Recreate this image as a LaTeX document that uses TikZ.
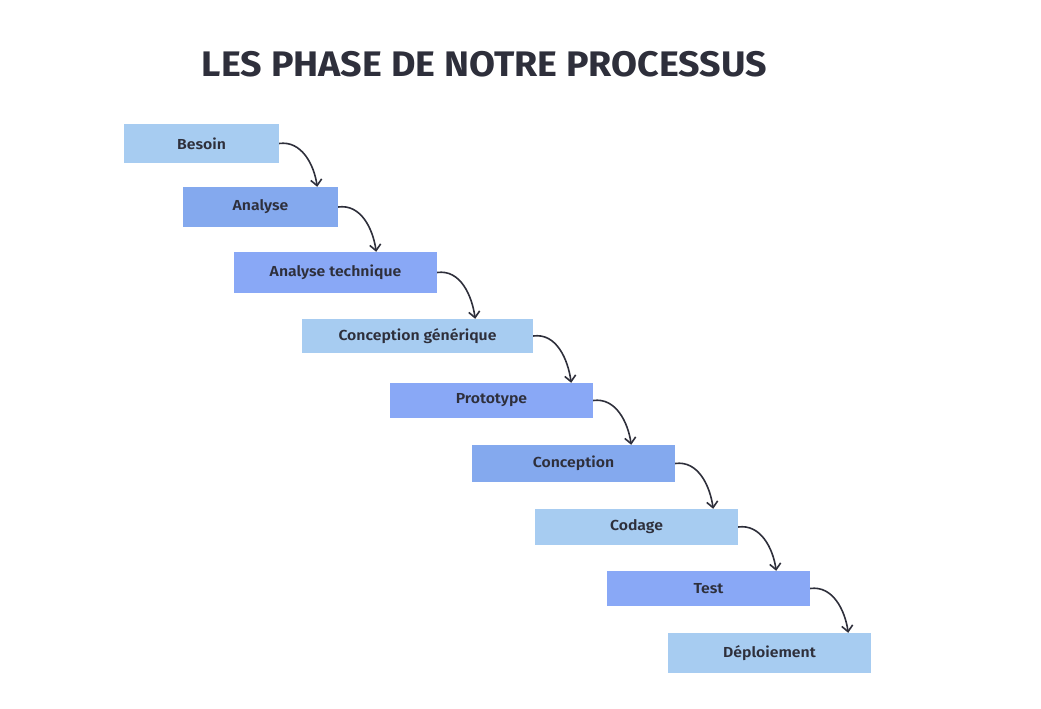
\documentclass[tikz,border=0pt]{standalone}
\usepackage{fontspec}
\setmainfont{Fira Sans}[BoldFont={Fira Sans SemiBold}]
\newfontfamily\titlefont{Fira Sans}[UprightFont={Fira Sans Bold}]
\usetikzlibrary{arrows.meta,calc}
\definecolor{inkdark}{HTML}{2E2F3B}
\definecolor{paleblue}{HTML}{A7CCF1}
\definecolor{midblue}{HTML}{84A9EE}
\definecolor{deepblue}{HTML}{89A8F6}
\newcommand{\phasetext}[1]{\scalebox{1.09}[1]{#1}}
\tikzset{
  phase/.style={inner sep=0pt, text=inkdark, font=\fontsize{14.5}{16}\selectfont\bfseries},
  pale/.style={phase, fill=paleblue},
  mid/.style={phase, fill=midblue},
  deep/.style={phase, fill=deepblue},
  step arrow/.style={draw=inkdark, line width=1.6pt, -{Straight Barb[length=6pt,width=11pt]}}
}
\begin{document}
\begin{tikzpicture}[x=1pt,y=1pt]
  \useasboundingbox (0,0) rectangle (1041,-709);

  \node[text=inkdark, font=\fontsize{35.5}{40}\selectfont\titlefont] (title) at (484.5,-64.5) {\scalebox{1.06}[1]{LES PHASE DE NOTRE PROCESSUS}};

  \node[pale, minimum width=155pt, minimum height=39pt] (besoin) at (201.5,-143.5) {\phasetext{Besoin}};
  \node[mid, minimum width=155pt, minimum height=40pt] (analyse) at (260.5,-207) {\phasetext{Analyse}};
  \node[deep, minimum width=203pt, minimum height=41pt] (technique) at (335.5,-272.5) {\phasetext{Analyse technique}};
  \node[pale, minimum width=231pt, minimum height=34pt] (generique) at (417.5,-336) {\phasetext{Conception générique}};
  \node[deep, minimum width=203pt, minimum height=35pt] (prototype) at (491.5,-400.5) {\phasetext{Prototype}};
  \node[mid, minimum width=203pt, minimum height=37pt] (conception) at (573.5,-463.5) {\phasetext{Conception}};
  \node[pale, minimum width=203pt, minimum height=36pt] (codage) at (636.5,-527) {\phasetext{Codage}};
  \node[deep, minimum width=203pt, minimum height=35pt] (test) at (708.5,-588.5) {\phasetext{Test}};
  \node[pale, minimum width=203pt, minimum height=40pt] (deploiement) at (769.5,-653) {\phasetext{Déploiement}};

  % arrows between phases
  \foreach \a/\b in {besoin/analyse, analyse/technique, technique/generique, generique/prototype,
                     prototype/conception, conception/codage, codage/test, test/deploiement}{
    \coordinate (\a-turn) at ($(\a.east)+(38,0)$);
    \draw[step arrow] (\a.east) to[out=8, in=98] (\a-turn |- \b.north);
  }
\end{tikzpicture}
\end{document}
